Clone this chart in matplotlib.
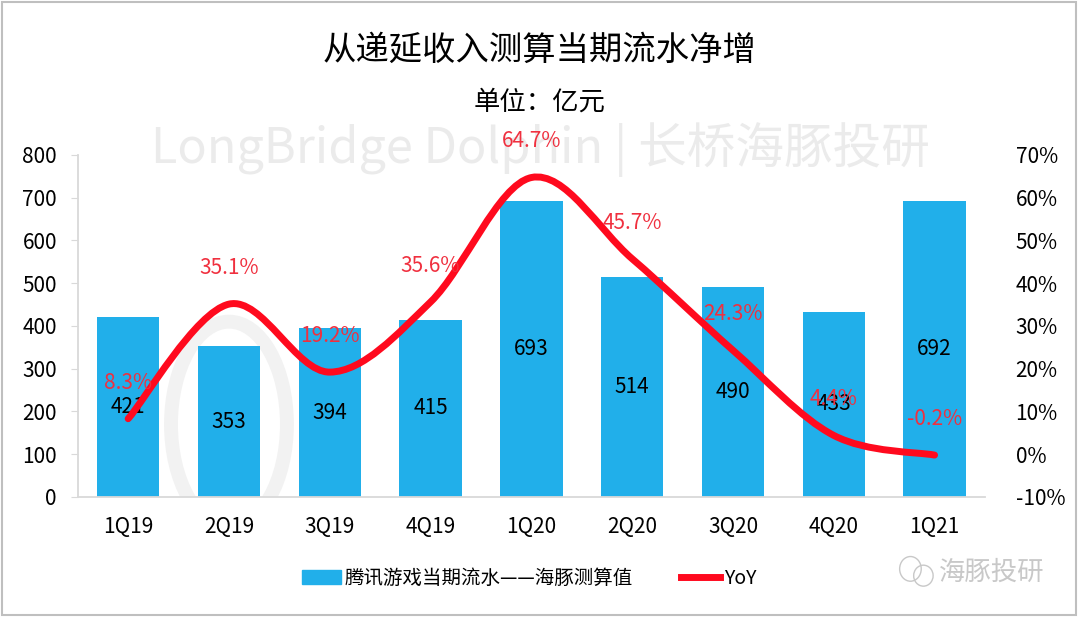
import matplotlib.pyplot as plt
from matplotlib.path import Path
from matplotlib.patches import PathPatch, Rectangle, Ellipse
from matplotlib.lines import Line2D
from matplotlib.ticker import FuncFormatter

plt.rcParams['font.family'] = ['Noto Sans CJK SC', 'DejaVu Sans']

# 数据
quarters = ["1Q19", "2Q19", "3Q19", "4Q19", "1Q20", "2Q20", "3Q20", "4Q20", "1Q21"]
flow = [421, 353, 394, 415, 693, 514, 490, 433, 692]
yoy = [8.3, 35.1, 19.2, 35.6, 64.7, 45.7, 24.3, 4.4, -0.2]

bar_color = "#21AFEA"
line_color = "#FF0A1E"
label_red = "#F0303F"

fig = plt.figure(figsize=(10.8, 6.17), dpi=100)
ax = fig.add_axes([0.072, 0.1945, 0.84, 0.5545])
ax2 = ax.twinx()

x = list(range(len(quarters)))

# 背景水印
fig.text(0.5, 0.757, "LongBridge Dolphin | 长桥海豚投研", ha="center", va="center",
         fontsize=35, color="#EBEBEB", zorder=0)
ax.add_patch(Ellipse((1.0, 170), 1.15, 480, fill=False, lw=10,
                     ec="#F2F2F2", zorder=0.5, clip_on=True))

bars = ax.bar(x, flow, width=0.62, color=bar_color, zorder=2)
for xi, v in zip(x, flow):
    ax.text(xi, v / 2, str(v), ha="center", va="center", fontsize=15,
            color="black", zorder=6)

ax.set_xlim(-0.5, len(quarters) - 0.5)
ax.set_ylim(0, 800)
ax.set_yticks(range(0, 801, 100))
ax.set_xticks(x)
ax.set_xticklabels(quarters)
ax.tick_params(axis="x", length=0, pad=14, labelsize=15)
ax.tick_params(axis="y", length=5, color="#D9D9D9", pad=10, labelsize=15)
for s in ["top", "right"]:
    ax.spines[s].set_visible(False)
ax.spines["left"].set_color("#D9D9D9")
ax.spines["bottom"].set_color("#D9D9D9")
ax.spines["left"].set_linewidth(1.3)
ax.spines["bottom"].set_linewidth(1.3)

# 平滑曲线（贝塞尔）
verts = [(x[0], yoy[0])]
codes = [Path.MOVETO]
n = len(yoy)
for i in range(n - 1):
    p0 = (x[max(i - 1, 0)], yoy[max(i - 1, 0)])
    p1 = (x[i], yoy[i])
    p2 = (x[i + 1], yoy[i + 1])
    p3 = (x[min(i + 2, n - 1)], yoy[min(i + 2, n - 1)])
    c1 = (p1[0] + (p2[0] - p0[0]) / 6, p1[1] + (p2[1] - p0[1]) / 6)
    c2 = (p2[0] - (p3[0] - p1[0]) / 6, p2[1] - (p3[1] - p1[1]) / 6)
    verts += [c1, c2, p2]
    codes += [Path.CURVE4] * 3
ax2.add_patch(PathPatch(Path(verts, codes), fill=False, ec=line_color, lw=5,
                        capstyle="round", joinstyle="round", zorder=4))

for xi, v in zip(x, yoy):
    ax2.annotate(f"{v:.1f}%", (xi, v), xytext=(0, 26), textcoords="offset points",
                 ha="center", va="center", fontsize=15, color=label_red, zorder=7)

ax2.set_ylim(-10, 70)
ax2.set_yticks(range(-10, 71, 10))
ax2.yaxis.set_major_formatter(FuncFormatter(lambda v, p: f"{v:.0f}%"))
ax2.tick_params(axis="y", length=0, pad=22, labelsize=15)
for s in ax2.spines.values():
    s.set_visible(False)
ax2.set_zorder(ax.get_zorder() + 1)
ax.patch.set_visible(False)

# 标题
fig.text(0.5, 0.918, "从递延收入测算当期流水净增", ha="center", va="center", fontsize=24)
fig.text(0.5, 0.834, "单位：亿元", ha="center", va="center", fontsize=19)

# 图例
handles = [Rectangle((0, 0), 1, 1, color=bar_color),
           Line2D([0], [0], color=line_color, lw=5)]
fig.legend(handles, ["腾讯游戏当期流水——海豚测算值", "YoY"], loc="center",
           bbox_to_anchor=(0.49, 0.063), ncol=2, frameon=False, fontsize=14,
           handlelength=2.0, handletextpad=0.2, columnspacing=2.5)

# 公众号标识
fig.text(0.967, 0.073, "海豚投研", ha="right", va="center", fontsize=19,
         color="#C8C8C8")
fig.patches.append(Ellipse((0.843, 0.078), 0.02, 0.04, transform=fig.transFigure,
                           fill=False, ec="#C8C8C8", lw=1))
fig.patches.append(Ellipse((0.855, 0.067), 0.018, 0.034, transform=fig.transFigure,
                           fill=False, ec="#C8C8C8", lw=1))

# 外框
fig.patches.append(Rectangle((0.002, 0.003), 0.994, 0.993, transform=fig.transFigure,
                             fill=False, ec="#BFBFBF", lw=1.5))

fig.savefig("out.png", dpi=100)
